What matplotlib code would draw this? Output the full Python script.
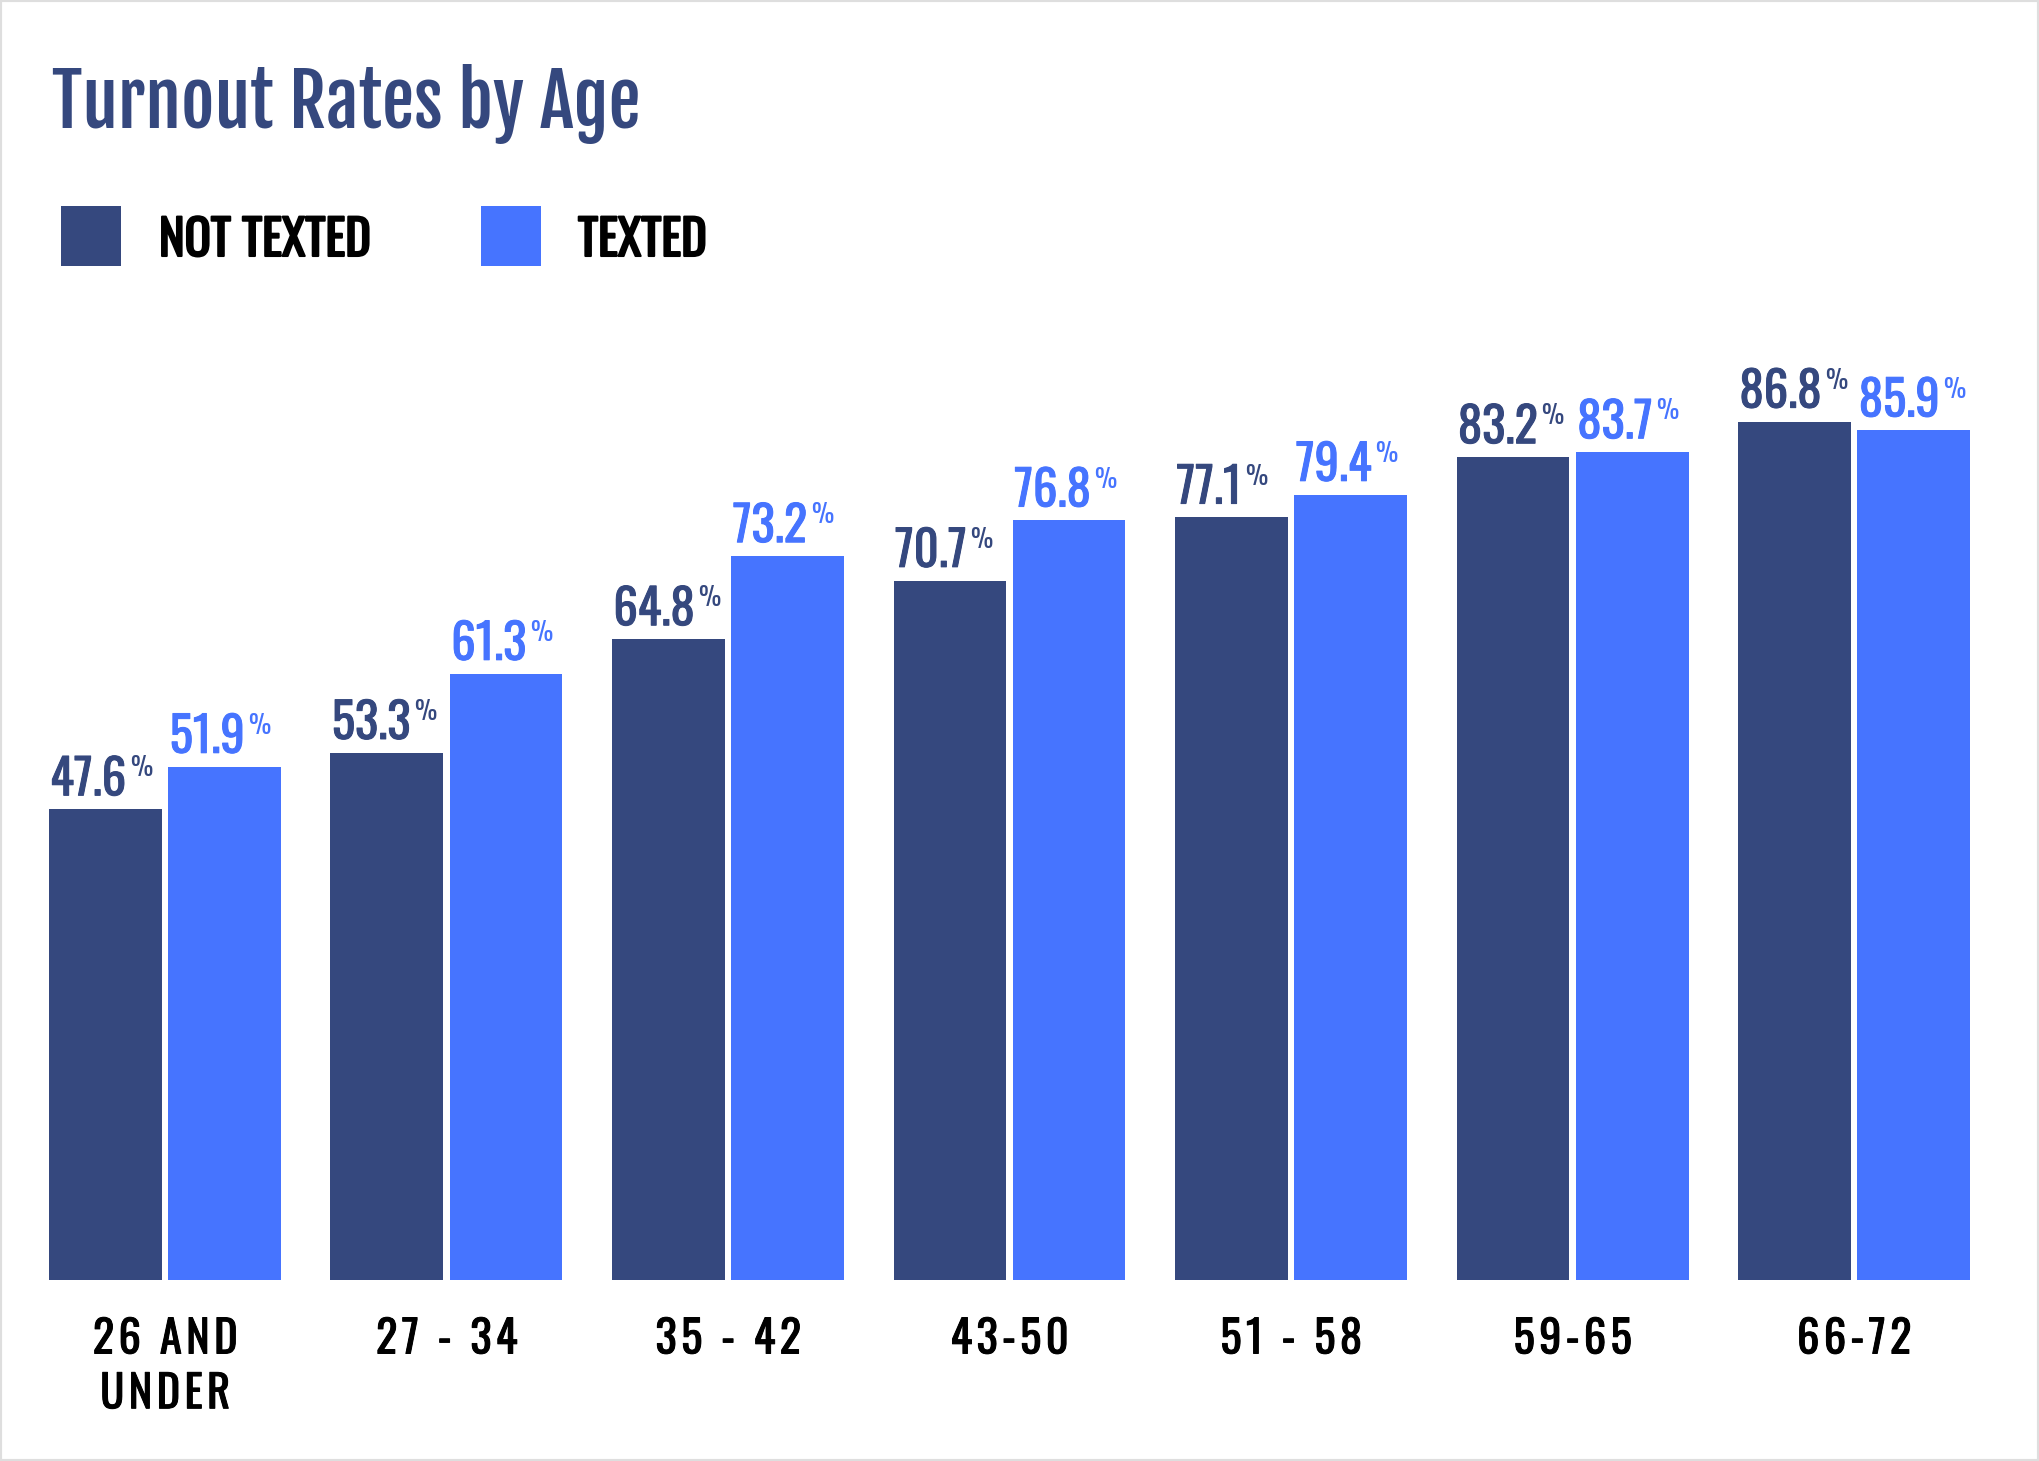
import matplotlib
matplotlib.use("Agg")
import matplotlib.pyplot as plt
import matplotlib.patheffects as pe
from matplotlib.patches import Rectangle
import numpy as np

# ---------- DATA ----------
age_groups = ["26 AND\nUNDER", "27 - 34", "35 - 42", "43-50", "51 - 58", "59-65", "66-72"]
not_texted = [47.6, 53.3, 64.8, 70.7, 77.1, 83.2, 86.8]
texted = [51.9, 61.3, 73.2, 76.8, 79.4, 83.7, 85.9]
series_names = ["NOT TEXTED", "TEXTED"]
series_colors = ["#35487e", "#4674ff"]
title = "Turnout Rates by Age"

# fonts (fall back to DejaVu for any missing glyph)
oswald = ["Oswald", "DejaVu Sans"]
fjalla = ["Fjalla One", "DejaVu Sans"]

# canvas in pixels
W, H = 2039, 1461


def fx(px):
    return px / W


def fy(py):
    return 1 - py / H


def spaced(label):
    # a bit of letter spacing like the original
    return "\n".join("\u200a".join(line) for line in label.split("\n"))


def heavier(color, lw=1.0):
    # Oswald only ships as regular here, thicken it a little
    return [pe.withStroke(linewidth=lw, foreground=color)]


fig = plt.figure(figsize=(W / 100, H / 100), dpi=100, facecolor="white")

# ---------- BARS ----------
ax = fig.add_axes([0, fy(1280), 1, 989 / H])
x = np.arange(len(age_groups))
off, bw = 0.212, 0.40

for vals, sign, color in zip([not_texted, texted], [-1, 1], series_colors):
    bars = ax.bar(x + sign * off, vals, bw, color=color, linewidth=0)
    for rect, v in zip(bars, vals):
        t = ax.annotate(f"{v:.1f}", xy=(rect.get_x(), v), xytext=(1, 10),
                        textcoords="offset points", ha="left", va="baseline",
                        fontsize=35, family=oswald, color=color,
                        path_effects=heavier(color, 0.7))
        ax.annotate("%", xy=(1, 1), xycoords=t, xytext=(2.5, 0),
                    textcoords="offset points", ha="left", va="top",
                    fontsize=18, family=oswald, color=color)

ax.set_xlim(-0.586, 6.657)
ax.set_ylim(0, 100)
ax.set_xticks(x, [spaced(l) for l in age_groups])
for lbl in ax.get_xticklabels():
    lbl.set_fontsize(32)
    lbl.set_family(oswald)
    lbl.set_linespacing(1.3)
    lbl.set_color("black")
    lbl.set_path_effects(heavier("black", 0.7))
ax.tick_params(axis="x", length=0, pad=27)
ax.set_yticks([])
for s in ax.spines.values():
    s.set_visible(False)
ax.patch.set_alpha(0)

# ---------- TITLE & LEGEND ----------
fig.text(fx(52), fy(128), title, ha="left", va="baseline",
         fontsize=52, family=fjalla, color=series_colors[0])

legend_x = [61, 481]
text_x = [159, 578]
for name, color, lx, tx in zip(series_names, series_colors, legend_x, text_x):
    fig.add_artist(Rectangle((fx(lx), fy(266)), 60 / W, 60 / H,
                             transform=fig.transFigure, color=color, linewidth=0))
    fig.text(fx(tx), fy(256), name, ha="left", va="baseline",
             fontsize=35, family=oswald, color="black",
             path_effects=heavier("black", 1.5))

# light frame around the picture
fig.add_artist(Rectangle((0, 0), 1, 1, transform=fig.transFigure,
                         fill=False, edgecolor="#dedede", linewidth=3))

fig.savefig("out.png", dpi=100, facecolor="white")
